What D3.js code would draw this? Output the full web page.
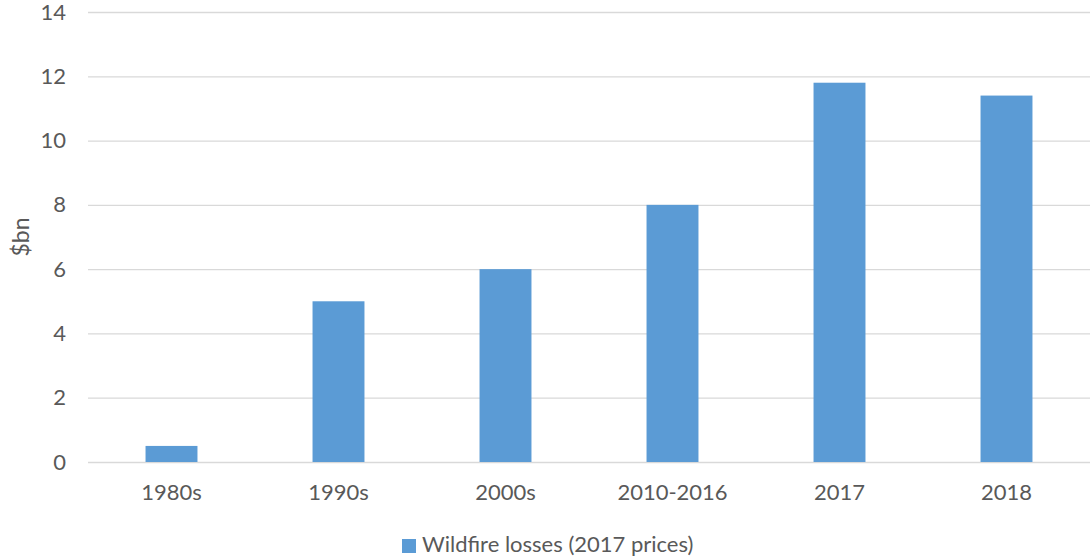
<!DOCTYPE html>
<html>
<head>
<meta charset="utf-8">
<script src="https://cdn.jsdelivr.net/npm/d3@7/dist/d3.min.js"></script>
<style>
  html, body { margin: 0; padding: 0; background: #fff; }
  svg { display: block; }
  svg text { font-family: Lato, "Open Sans", sans-serif; }
</style>
</head>
<body>
<div id="chart"></div>
<script>
const categories = ["1980s", "1990s", "2000s", "2010-2016", "2017", "2018"];
const losses = [0.5, 5, 6, 8, 11.8, 11.4];
const yTicks = [0, 2, 4, 6, 8, 10, 12, 14];
const seriesName = "Wildfire losses (2017 prices)";
const yTitle = "$bn";

const width = 1092;
const height = 560;
const margin = { top: 12, right: 2, bottom: 98, left: 88 };
const barColor = "#5B9BD5";
const textColor = "#595959";
const fontSize = 22;

const data = categories.map((c, i) => ({ category: c, value: losses[i] }));

const x = d3
  .scaleBand()
  .domain(categories)
  .range([margin.left, width - margin.right])
  .paddingInner(0.689)
  .paddingOuter(0.3445);

const y = d3
  .scaleLinear()
  .domain([0, 14])
  .range([height - margin.bottom, margin.top]);

const svg = d3
  .select("#chart")
  .append("svg")
  .attr("width", width)
  .attr("height", height)
  .attr("viewBox", `0 0 ${width} ${height}`);

// gridlines + y labels
svg
  .append("g")
  .attr("transform", `translate(${margin.left},0)`)
  .call(
    d3
      .axisLeft(y)
      .tickValues(yTicks)
      .tickSize(-(width - margin.left - margin.right))
      .tickPadding(22)
  )
  .call((g) => g.select(".domain").remove())
  .call((g) => g.selectAll(".tick line").attr("stroke", "#d9d9d9").attr("stroke-width", 1.3))
  .call((g) =>
    g.selectAll(".tick text").attr("fill", textColor).attr("font-size", fontSize)
  );

svg
  .append("g")
  .selectAll("rect")
  .data(data)
  .join("rect")
  .attr("x", (d) => x(d.category))
  .attr("y", (d) => y(d.value))
  .attr("width", x.bandwidth())
  .attr("height", (d) => y(0) - y(d.value))
  .attr("fill", barColor);

// x labels
svg
  .append("g")
  .attr("transform", `translate(0,${y(0)})`)
  .call(d3.axisBottom(x).tickSize(0))
  .call((g) => g.select(".domain").remove())
  .call((g) =>
    g
      .selectAll(".tick text")
      .attr("y", 38)
      .attr("dy", 0)
      .attr("fill", textColor)
      .attr("font-size", fontSize)
  );

svg
  .append("text")
  .attr("transform", `translate(29,237) rotate(-90)`)
  .attr("text-anchor", "middle")
  .attr("fill", textColor)
  .attr("font-size", 23)
  .text(yTitle);

// legend
const legend = svg.append("g").attr("transform", "translate(402,539)");
legend
  .append("rect")
  .attr("width", 14)
  .attr("height", 14)
  .attr("fill", barColor);
legend
  .append("text")
  .attr("x", 20)
  .attr("y", 13)
  .attr("fill", textColor)
  .attr("font-size", fontSize)
  .text(seriesName);
</script>
</body>
</html>
